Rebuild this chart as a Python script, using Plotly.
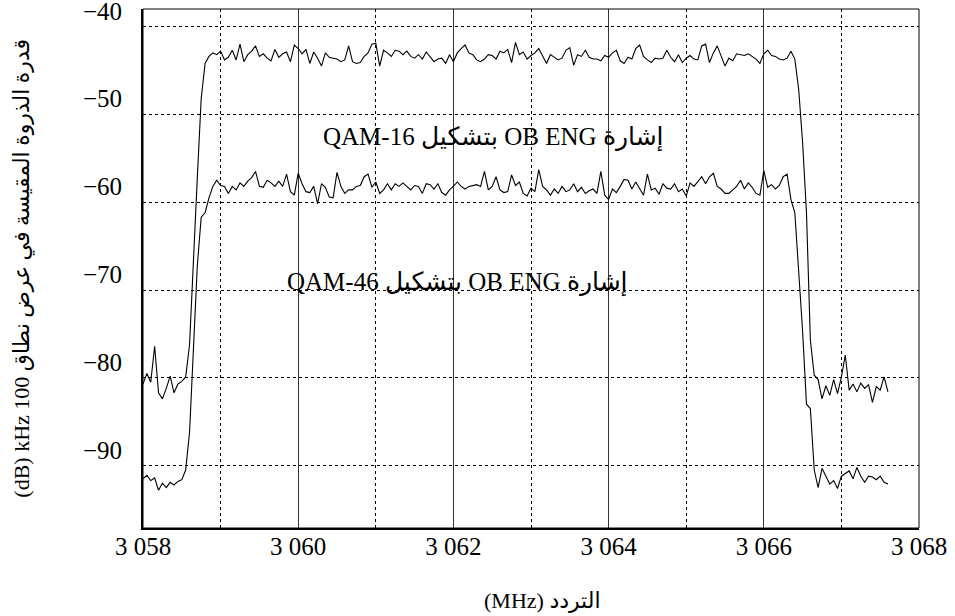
import plotly.graph_objects as go

# ---------------- data ----------------
FREQ_START = 3058.0   # MHz, first sweep point
FREQ_STEP = 0.05      # MHz, sweep step

# QAM-16 OB ENG signal (upper trace), dB
upper_left_floor = [-82.5, -81.3, -82.3, -78.2, -83.5, -84.2, -83.0, -81.6, -83.5, -82.5, -82.2]
upper_rise = [-81.7, -78.0, -68.0, -59.0, -50.0, -46.0]
upper_band_a = [-45.2, -44.8, -45.0, -44.6, -45.6, -45.3, -44.5, -45.6, -43.8, -45.8,
                -45.0, -44.6, -44.0, -45.2, -44.9, -45.4, -45.7, -44.4, -45.3, -44.9,
                -44.7, -45.8, -43.9, -44.3, -44.9, -44.4, -46.0, -44.7, -45.4, -46.3,
                -44.8, -45.3, -45.4, -45.5, -45.8, -45.6, -44.0, -45.8, -46.0, -45.9,
                -45.2, -44.8, -43.8, -43.7, -46.3, -44.5, -44.8, -45.2]
upper_band_b = [-44.5, -44.6, -45.0, -44.6, -45.2, -45.4, -45.0, -45.5, -44.7, -45.2,
                -45.8, -45.5, -45.4, -46.0, -45.0, -45.8, -44.8, -44.3, -43.9, -44.8,
                -45.0, -45.6, -45.8, -45.5, -45.0, -45.1, -45.5, -44.6, -44.8, -44.4,
                -45.9, -43.6, -45.0, -44.7, -45.5, -45.1, -44.8, -44.3, -45.1, -46.0,
                -45.0, -45.3, -45.6, -45.4, -44.5, -44.2, -46.2, -45.0, -45.2, -44.5,
                -45.3, -45.5]
upper_band_c = [-45.5, -45.7, -45.1, -45.3, -44.8, -44.5, -45.7, -46.0, -45.3, -45.5,
                -44.3, -43.9, -45.2, -45.6, -45.9, -45.4, -45.5, -45.4, -44.5, -45.3,
                -45.8, -45.0, -45.9, -45.4, -45.1, -45.5, -45.6, -44.0, -43.8, -45.9,
                -44.8, -44.0, -45.1, -46.3, -45.4, -45.7, -44.9, -45.0, -45.1, -44.9,
                -45.2, -45.5, -46.0, -44.9, -44.5, -45.1, -45.2, -45.5, -45.6, -45.4,
                -44.6]
upper_fall = [-45.5, -49.0, -55.0, -63.0, -77.5]
upper_right_floor = [-81.5, -82.0, -84.2, -82.7, -83.8, -82.0, -83.6, -81.7, -79.2, -83.2,
                     -82.5, -83.4, -82.4, -83.0, -82.6, -84.6, -82.8, -83.2, -81.7, -83.4]

# QAM-46 OB ENG signal (lower trace), dB
lower_left_floor = [-93.3, -92.9, -93.5, -93.2, -94.6, -93.8, -94.3, -93.7, -94.0, -93.6, -93.4]
lower_rise = [-92.3, -88.0, -78.0, -69.0, -63.5, -63.0]
lower_band_a = [-61.3, -60.0, -59.3, -59.9, -60.0, -60.8, -60.0, -60.4, -59.6, -60.0,
                -59.4, -59.0, -58.3, -60.0, -60.1, -59.3, -59.6, -60.0, -59.4, -60.0,
                -58.6, -60.6, -61.0, -58.5, -59.7, -60.6, -60.7, -60.0, -62.0, -59.7,
                -60.1, -61.2, -61.3, -58.4, -60.0, -60.8, -60.4, -60.4, -60.0, -59.9,
                -58.9, -58.6, -60.1, -59.5, -60.8, -60.4, -59.7, -60.4]
lower_band_b = [-59.7, -60.0, -59.6, -60.0, -60.4, -59.9, -60.0, -60.8, -59.7, -59.8,
                -60.3, -59.7, -60.7, -61.0, -60.4, -60.0, -59.5, -60.0, -60.3, -60.0,
                -59.9, -59.8, -60.0, -58.3, -60.4, -60.0, -58.9, -60.4, -60.7, -60.6,
                -58.7, -59.9, -59.5, -60.8, -61.1, -60.2, -60.6, -58.1, -60.0, -60.4,
                -61.0, -60.3, -60.8, -60.0, -60.6, -60.4, -59.7, -60.6, -60.1, -60.8,
                -60.5, -60.3]
lower_band_c = [-60.8, -58.3, -61.0, -61.5, -60.3, -60.7, -60.0, -59.2, -59.3, -60.3,
                -59.5, -60.3, -61.0, -58.6, -60.4, -60.2, -60.9, -59.7, -60.2, -60.3,
                -59.7, -60.6, -60.3, -61.1, -59.6, -60.0, -59.4, -58.9, -59.7, -58.9,
                -58.5, -60.0, -60.3, -60.8, -60.8, -60.4, -60.0, -59.3, -60.3, -59.6,
                -60.1, -60.8, -61.0, -58.2, -60.1, -59.8, -60.3, -59.9, -58.9, -58.6,
                -61.5]
lower_fall = [-63.0, -69.5, -76.5, -84.8, -85.3]
lower_right_floor = [-92.3, -94.3, -92.1, -93.0, -93.9, -93.5, -94.4, -93.0, -92.7, -92.4,
                     -93.3, -92.0, -93.0, -93.7, -93.0, -93.1, -93.4, -93.0, -93.7, -93.9]

upper = (upper_left_floor + upper_rise + upper_band_a + upper_band_b + upper_band_c
         + upper_fall + upper_right_floor)
lower = (lower_left_floor + lower_rise + lower_band_a + lower_band_b + lower_band_c
         + lower_fall + lower_right_floor)
freq = [round(FREQ_START + i * FREQ_STEP, 2) for i in range(len(upper))]

x_ticks = [3058, 3060, 3062, 3064, 3066, 3068]
x_ticklabels = ["3 058", "3 060", "3 062", "3 064", "3 066", "3 068"]
y_ticks = [-40, -50, -60, -70, -80, -90]
y_grid = [-41.8, -51.8, -61.8, -71.8, -81.8, -91.8]

label_16 = "QAM-16 بتشكيل OB ENG إشارة"
label_46 = "QAM-46 بتشكيل OB ENG إشارة"
x_title = "(MHz) التردد"
y_title = "(dB) kHz 100 قدرة الذروة المقيسة في عرض نطاق"

# ---------------- figure ----------------
FONT = "Liberation Serif, Times New Roman, DejaVu Serif, DejaVu Sans, serif"

fig = go.Figure()
fig.add_trace(go.Scatter(x=freq, y=upper, mode="lines",
                         line=dict(color="black", width=1.1), showlegend=False,
                         hoverinfo="x+y"))
fig.add_trace(go.Scatter(x=freq, y=lower, mode="lines",
                         line=dict(color="black", width=1.1), showlegend=False,
                         hoverinfo="x+y"))

fig.update_layout(
    width=955, height=616,
    margin=dict(l=143, r=36, t=9, b=88, autoexpand=False),
    paper_bgcolor="white", plot_bgcolor="white",
    font=dict(family=FONT, color="black", size=25),
    xaxis=dict(
        range=[3058, 3068], tickmode="array", tickvals=x_ticks, ticktext=x_ticklabels,
        ticks="", showline=True, linecolor="black", linewidth=2,
        showgrid=True, gridcolor="#333333", gridwidth=1,
        minor=dict(dtick=1, tick0=3058, showgrid=True, griddash="dot",
                   gridcolor="black", gridwidth=1, ticks=""),
        tickfont=dict(size=25), ticklabelstandoff=-5, zeroline=False,
        ticklabeloverflow="allow", automargin=False,
    ),
    yaxis=dict(
        range=[-98.9, -39.8], tickmode="array", tickvals=y_ticks,
        ticks="", showline=True, linecolor="black", linewidth=2,
        showgrid=False,
        minor=dict(tickvals=y_grid, showgrid=True, griddash="dot",
                   gridcolor="black", gridwidth=1, ticks=""),
        tickfont=dict(size=25), ticklabelstandoff=14, zeroline=False,
        ticklabeloverflow="allow", automargin=False,
    ),
    shapes=[dict(type="rect", xref="paper", yref="paper", x0=0, y0=0, x1=1, y1=1,
                 line=dict(color="black", width=1), layer="above")],
    annotations=[
        dict(text=label_16, x=3062.52, y=-54.4, xref="x", yref="y",
             showarrow=False, font=dict(size=25)),
        dict(text=label_46, x=3062.05, y=-71.0, xref="x", yref="y",
             showarrow=False, font=dict(size=25)),
        dict(text=x_title, x=0.437, y=-0.139, xref="paper", yref="paper",
             xanchor="left", yanchor="middle", showarrow=False, font=dict(size=22)),
        dict(text=y_title, x=-0.157, y=0.5, xref="paper", yref="paper",
             xanchor="center", yanchor="middle", textangle=-90,
             showarrow=False, font=dict(size=22)),
    ],
)

fig.write_html(
    "out.html",
    config={"displayModeBar": False},
    post_script="document.body.style.margin='0';document.body.style.overflow='hidden';",
)
